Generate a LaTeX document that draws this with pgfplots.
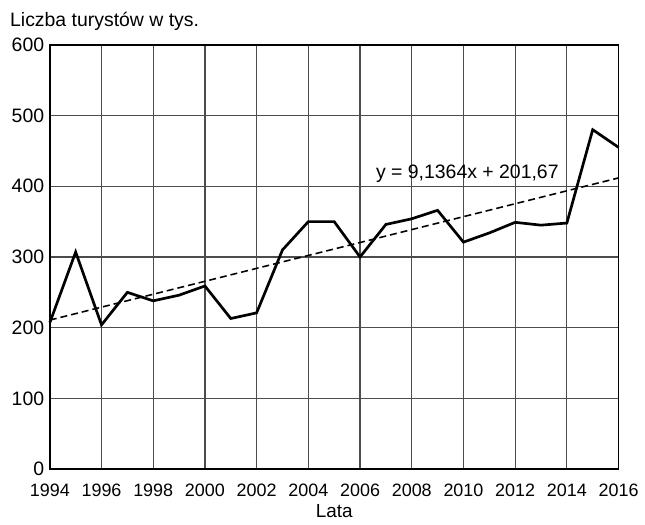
\documentclass[border=0pt]{standalone}
\usepackage{pgfplots}
\pgfplotsset{compat=1.18}
\usepackage{fontspec}
\setmainfont{Liberation Sans}

\begin{document}
\fontsize{19.5}{23}\selectfont
\begin{tikzpicture}
\begin{axis}[
    scale only axis,
    width=571pt,
    height=426pt,
    xmin=1994, xmax=2016,
    ymin=0, ymax=600,
    xtick={1994,1996,...,2016},
    ytick={0,100,...,600},
    major tick length=0pt,
    grid=major,
    major grid style={black!70, line width=1.2pt},
    axis line style={black, line width=1.6pt},
    /pgf/number format/assume math mode=true,
    /pgf/number format/1000 sep={},
    xticklabel style={font=\fontsize{18}{21}\selectfont, yshift=-8pt},
    yticklabel style={font=\fontsize{19.5}{23}\selectfont, xshift=1pt},
    xlabel={Lata},
    xlabel style={font=\fontsize{19}{23}\selectfont, yshift=5pt},
    clip=false,
]
% dane
\addplot[black, line width=2.7pt, line join=miter, mark=none] coordinates {
    (1994,207) (1995,307) (1996,204) (1997,250) (1998,238) (1999,246)
    (2000,259) (2001,213) (2002,221) (2003,310) (2004,350) (2005,350)
    (2006,300) (2007,346) (2008,354) (2009,366) (2010,321) (2011,334)
    (2012,349) (2013,345) (2014,348) (2015,480) (2016,455)
};
% linia trendu y = 9,1364x + 201,67 (x = 1..23)
\addplot[black, line width=1.6pt, dash pattern=on 7pt off 4pt, mark=none] coordinates {
    (1994,210.81) (2016,411.81)
};
\node[anchor=center] at (axis cs:2010.15,418) {y = 9,1364x + 201,67};
\node[anchor=base west, inner sep=0pt] at ([xshift=-40pt,yshift=18pt]rel axis cs:0,1) {Liczba turystów w tys.};
\coordinate (sw) at (rel axis cs:0,0);
\coordinate (ne) at (rel axis cs:1,1);
\end{axis}
\path ([shift={(-50pt,-48pt)}]sw) rectangle ([shift={(24pt,45pt)}]ne);
\end{tikzpicture}
\end{document}
